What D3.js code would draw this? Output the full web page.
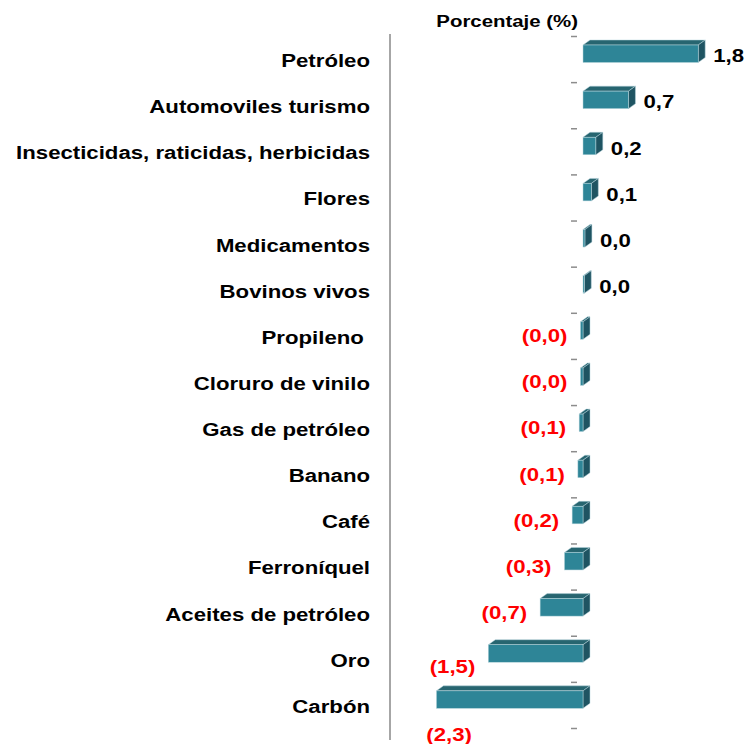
<!DOCTYPE html>
<html>
<head>
<meta charset="utf-8">
<script src="https://cdn.jsdelivr.net/npm/d3@7"></script>
<style>
  html, body { margin: 0; padding: 0; background: #ffffff; }
  svg { display: block; }
  text { font-family: Arial, "Liberation Sans", sans-serif; font-weight: bold; }
</style>
</head>
<body>
<svg id="chart" width="749" height="744"></svg>
<script>
// ---- Data ----
const categories = [
  "Petróleo", "Automoviles turismo", "Insecticidas, raticidas, herbicidas",
  "Flores", "Medicamentos", "Bovinos vivos", "Propileno\u00A0", "Cloruro de vinilo",
  "Gas de petróleo", "Banano", "Café", "Ferroníquel", "Aceites de petróleo",
  "Oro", "Carbón"
];
const values = [1.8, 0.71, 0.2, 0.13, 0.03, 0.02, -0.04, -0.04, -0.06, -0.08, -0.17, -0.29, -0.67, -1.48, -2.29];
const valueLabels = ["1,8", "0,7", "0,2", "0,1", "0,0", "0,0", "(0,0)", "(0,0)", "(0,1)", "(0,1)", "(0,2)", "(0,3)", "(0,7)", "(1,5)", "(2,3)"];
const axisTitle = "Porcentaje (%)";

// ---- Layout ----
const svg = d3.select("#chart");
const SX = 1.2;               // horizontal stretch of the original picture's text
const depthX = 7, depthY = 5; // 3D bar depth

const y = d3.scaleBand().domain(categories).range([36, 728]).paddingInner(0).paddingOuter(0);
const x = d3.scaleLinear().domain([-2.3, 1.8]).range([583 - 2.3 * 64, 583 + 1.8 * 64]);
const x0 = x(0);
const barTop = 9, barH = 17.5;

const colFront = "#2e8597", colTop = "#276570", colSide = "#1f5462", colEdge = "#b7d5dc";

// vertical line separating category labels
svg.append("line")
  .attr("x1", 390).attr("x2", 390).attr("y1", 34).attr("y2", 740)
  .attr("stroke", "#a6a6a6").attr("stroke-width", 2);

// category tick marks (band boundaries)
const tickAxis = d3.axisLeft(d3.scaleLinear().domain([0, categories.length]).range(y.range()))
  .tickValues(d3.range(categories.length + 1))
  .tickSize(6).tickFormat("");
const tg = svg.append("g").attr("transform", `translate(577,0)`).call(tickAxis);
tg.select(".domain").remove();
tg.selectAll(".tick line").attr("stroke", "#8c8c8c").attr("stroke-width", 1.5);

// bars
const bars = svg.append("g");
categories.forEach((c, i) => {
  const v = values[i];
  const xa = Math.min(x(v), x0), xb = Math.max(x(v), x0);
  const y0 = y(c) + barTop, y1 = y0 + barH;
  const g = bars.append("g");
  g.append("polygon")
    .attr("points", [[xa, y0], [xa + depthX, y0 - depthY], [xb + depthX, y0 - depthY], [xb, y0]].join(" "))
    .attr("fill", colTop).attr("stroke", colEdge).attr("stroke-width", 0.5);
  g.append("polygon")
    .attr("points", [[xb, y0], [xb + depthX, y0 - depthY], [xb + depthX, y1 - depthY], [xb, y1]].join(" "))
    .attr("fill", colSide).attr("stroke", colEdge).attr("stroke-width", 0.5);
  g.append("rect")
    .attr("x", xa).attr("y", y0).attr("width", xb - xa).attr("height", barH)
    .attr("fill", colFront).attr("stroke", colEdge).attr("stroke-width", 0.5);
});

// category labels
svg.append("g").selectAll("text").data(categories).join("text")
  .attr("transform", d => `translate(370,${y(d) + 31}) scale(${SX},1)`)
  .attr("text-anchor", "end")
  .attr("font-size", 18.5)
  .attr("fill", "#000")
  .text(d => d);

// value labels
svg.append("g").selectAll("text").data(categories).join("text")
  .each(function (c, i) {
    const v = values[i];
    const t = d3.select(this);
    let tx, ty, anchor;
    if (v >= 0) {
      tx = x(v) + depthX + 8; ty = y(c) + 20; anchor = "start";
    } else {
      anchor = "end";
      tx = x(v) - 13; ty = y(c) + 23;
      const estWidth = 44;
      if (tx - estWidth < 392) { tx = 472; ty = y(c) + 53; }      // would cross the axis line: place under the bar
      else if (v < -1) { ty += 8; }
    }
    t.attr("transform", `translate(${tx},${ty}) scale(${SX},1)`)
      .attr("text-anchor", anchor)
      .attr("dominant-baseline", "central")
      .attr("font-size", 18.5)
      .attr("fill", v >= 0 ? "#000000" : "#ff0000")
      .text(valueLabels[i]);
  });

// axis title
svg.append("text")
  .attr("transform", `translate(578,27) scale(${SX},1)`)
  .attr("text-anchor", "end")
  .attr("font-size", 17)
  .attr("fill", "#000")
  .text(axisTitle);
</script>
</body>
</html>
